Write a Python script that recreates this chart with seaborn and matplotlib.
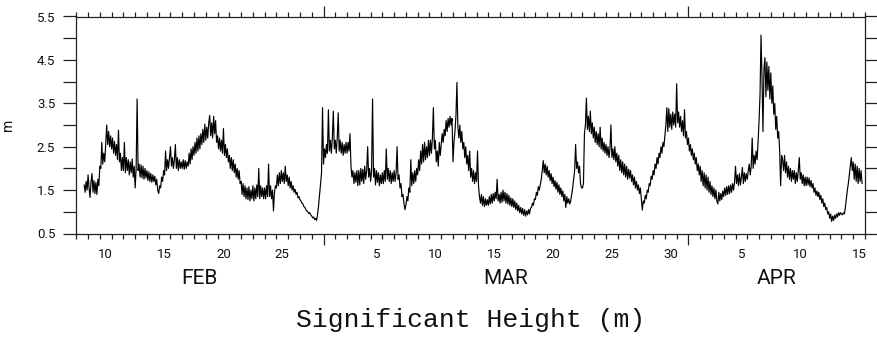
import pandas as pd
import matplotlib
matplotlib.use("Agg")
import matplotlib.pyplot as plt
import matplotlib.dates as mdates
import matplotlib.transforms as mtransforms
import seaborn as sns

# Significant wave height (m), 2-hourly samples, first sample 8 Feb 16:00
series_start = "2023-02-08 16:00"
step = "2h"

hs_feb = [
    1.62, 1.45, 1.70, 1.50,                                                  # 8
    1.85, 1.55, 1.33, 1.70, 1.88, 1.45, 1.72, 1.42, 1.68, 1.40, 1.75, 1.60,  # 9
    2.05, 2.00, 2.60, 2.10, 2.35, 2.15, 2.60, 3.00, 2.55, 2.85, 2.50, 2.75,  # 10
    2.45, 2.70, 2.35, 2.62, 2.30, 2.55, 2.20, 2.88, 2.15, 2.35, 1.95, 2.25,  # 11
    1.95, 2.60, 1.90, 2.25, 1.95, 2.20, 1.85, 2.15, 1.90, 2.22, 1.80, 2.05,  # 12
    1.55, 2.00, 3.60, 1.95, 2.10, 1.80, 2.08, 1.78, 2.05, 1.75, 2.00, 1.78,  # 13
    1.95, 1.72, 1.92, 1.70, 1.88, 1.68, 1.85, 1.70, 1.82, 1.62, 1.75, 1.50,  # 14
    1.42, 1.60, 1.55, 1.80, 1.70, 1.95, 1.85, 2.40, 1.95, 2.20, 2.00, 2.25,  # 15
    2.50, 2.05, 2.25, 2.00, 2.20, 2.55, 2.00, 2.25, 1.95, 2.20, 2.00, 2.15,  # 16
    2.00, 2.20, 1.98, 2.18, 2.00, 2.15, 2.05, 2.35, 2.10, 2.45, 2.20, 2.50,  # 17
    2.30, 2.60, 2.35, 2.70, 2.40, 2.75, 2.45, 2.80, 2.55, 2.90, 2.60, 3.02,  # 18
    2.65, 2.95, 2.70, 3.05, 3.22, 2.75, 3.05, 2.70, 3.20, 2.80, 3.10, 2.60,  # 19
    2.75, 2.45, 2.70, 2.40, 2.65, 2.35, 2.92, 2.30, 2.55, 2.25, 2.45, 2.15,  # 20
    2.30, 2.00, 2.25, 1.95, 2.20, 1.90, 2.10, 1.80, 2.00, 1.75, 1.95, 1.65,  # 21
    1.70, 1.40, 1.65, 1.35, 1.60, 1.30, 1.55, 1.28, 1.58, 1.25, 1.50, 1.30,  # 22
    1.60, 1.25, 1.55, 1.30, 1.62, 1.35, 2.00, 1.30, 1.60, 1.35, 1.55, 1.30,  # 23
    1.55, 1.30, 1.60, 1.35, 2.10, 1.35, 1.60, 1.30, 1.50, 1.02, 1.45, 1.60,  # 24
    1.55, 1.85, 1.60, 1.90, 1.65, 1.95, 1.70, 1.90, 1.65, 2.05, 1.70, 1.85,  # 25
    1.60, 1.80, 1.55, 1.70, 1.50, 1.60, 1.45, 1.52, 1.40, 1.45, 1.32, 1.35,  # 26
    1.28, 1.25, 1.20, 1.18, 1.12, 1.10, 1.05, 1.02, 1.00, 0.96, 0.98, 0.93,  # 27
    0.90, 0.86, 0.88, 0.82, 0.85, 0.80, 0.95, 1.15, 1.40, 1.65, 1.90, 3.40,  # 28
]

hs_mar = [
    2.10, 2.45, 2.25, 2.55, 2.35, 3.35, 2.40, 2.65, 2.35, 2.70, 3.32, 2.45,  # 1
    2.65, 2.35, 2.70, 3.28, 2.40, 2.65, 2.35, 2.60, 2.30, 2.55, 2.35, 2.60,  # 2
    2.35, 2.60, 2.40, 2.80, 2.05, 1.80, 1.95, 1.65, 1.90, 1.68, 1.95, 1.60,  # 3
    1.95, 1.62, 2.00, 1.70, 1.98, 1.65, 2.05, 1.75, 1.95, 2.50, 1.80, 2.00,  # 4
    1.70, 1.95, 3.60, 1.80, 2.00, 1.62, 1.95, 1.68, 1.90, 1.60, 1.85, 1.65,  # 5
    1.90, 1.65, 1.95, 1.70, 2.45, 1.75, 2.00, 1.70, 1.95, 1.65, 1.90, 1.70,  # 6
    1.95, 1.70, 1.90, 2.50, 1.75, 1.85, 1.55, 1.65, 1.35, 1.40, 1.20, 1.05,  # 7
    1.15, 1.35, 1.25, 1.55, 1.45, 2.20, 1.60, 1.90, 1.65, 1.95, 1.70, 2.00,  # 8
    1.85, 2.20, 1.95, 2.40, 2.10, 2.55, 2.15, 2.60, 2.20, 2.50, 2.25, 2.65,  # 9
    2.30, 2.65, 2.35, 2.70, 3.40, 2.45, 2.65, 2.15, 2.40, 2.05, 2.60, 2.30,  # 10
    2.55, 2.80, 2.60, 2.90, 2.75, 3.10, 2.85, 3.15, 2.95, 3.20, 3.00, 3.15,  # 11
    2.15, 2.60, 2.85, 3.20, 3.98, 2.95, 2.70, 3.00, 2.60, 2.85, 2.45, 2.60,  # 12
    2.25, 2.50, 2.10, 2.30, 1.95, 2.40, 1.80, 2.00, 1.70, 1.95, 1.65, 1.90,  # 13
    1.70, 2.40, 1.60, 1.35, 1.20, 1.40, 1.15, 1.35, 1.12, 1.30, 1.15, 1.28,  # 14
    1.15, 1.35, 1.18, 1.40, 1.20, 1.42, 1.25, 1.45, 1.30, 1.75, 1.25, 1.40,  # 15
    1.20, 1.45, 1.22, 1.50, 1.25, 1.45, 1.20, 1.42, 1.18, 1.38, 1.15, 1.32,  # 16
    1.12, 1.30, 1.10, 1.25, 1.05, 1.20, 1.02, 1.15, 0.98, 1.10, 0.95, 1.08,  # 17
    0.92, 1.05, 0.90, 1.02, 0.93, 1.05, 0.95, 1.08, 1.10, 1.20, 1.15, 1.30,  # 18
    1.28, 1.45, 1.38, 1.58, 1.50, 1.62, 1.75, 1.95, 2.18, 1.90, 2.10, 1.85,  # 19
    2.05, 1.80, 1.95, 1.72, 1.88, 1.65, 1.80, 1.58, 1.72, 1.52, 1.68, 1.45,  # 20
    1.62, 1.40, 1.55, 1.35, 1.48, 1.25, 1.40, 1.10, 1.35, 1.20, 1.30, 1.18,  # 21
    1.25, 1.40, 1.55, 1.75, 1.95, 2.55, 2.00, 2.15, 1.90, 2.05, 1.65, 1.55,  # 22
    1.55, 1.65, 2.80, 3.00, 3.62, 2.90, 3.20, 2.85, 3.32, 2.80, 3.05, 2.70,  # 23
    2.95, 2.60, 2.85, 2.55, 2.80, 2.50, 2.95, 2.45, 2.70, 2.40, 2.60, 2.35,  # 24
    2.55, 2.30, 2.50, 2.25, 2.45, 3.00, 2.25, 2.45, 2.20, 2.50, 2.15, 2.35,  # 25
    2.05, 2.30, 1.95, 2.20, 1.90, 2.15, 1.85, 2.10, 1.80, 2.05, 1.75, 1.98,  # 26
    1.78, 1.95, 1.70, 1.85, 1.62, 1.80, 1.55, 1.70, 1.50, 1.62, 1.42, 1.55,  # 27
    1.30, 1.04, 1.25, 1.20, 1.38, 1.30, 1.50, 1.45, 1.65, 1.60, 1.82, 1.75,  # 28
    1.95, 1.85, 2.10, 2.00, 2.25, 2.10, 2.35, 2.25, 2.50, 2.35, 2.60, 2.50,  # 29
    2.75, 3.00, 3.40, 2.85, 3.38, 2.95, 3.25, 2.90, 3.30, 3.00, 3.25, 2.95,  # 30
    3.95, 3.05, 3.30, 2.95, 3.20, 2.85, 3.10, 2.75, 3.35, 2.70, 2.85, 2.55,  # 31
]

hs_apr = [
    2.70, 2.40, 2.55, 2.30, 2.45, 2.20, 2.35, 2.10, 2.25, 1.95, 2.10, 1.85,  # 1
    2.05, 1.70, 1.95, 1.60, 1.90, 1.55, 1.85, 1.50, 1.80, 1.45, 1.70, 1.40,  # 2
    1.60, 1.35, 1.55, 1.30, 1.50, 1.25, 1.18, 1.45, 1.25, 1.42, 1.28, 1.48,  # 3
    1.35, 1.55, 1.38, 1.58, 1.40, 1.60, 1.42, 1.62, 1.45, 1.65, 1.50, 1.68,  # 4
    2.05, 1.65, 1.85, 1.60, 1.88, 1.62, 1.80, 2.02, 1.65, 1.90, 1.70, 1.88,  # 5
    1.75, 1.95, 2.10, 1.85, 2.05, 2.70, 2.00, 2.30, 2.10, 2.40, 2.20, 2.60,  # 6
    3.10, 3.70, 5.07, 4.10, 2.85, 4.30, 4.55, 3.65, 4.45, 3.80, 4.35, 3.60,  # 7
    4.20, 3.50, 3.90, 3.25, 3.50, 2.90, 3.20, 2.70, 2.85, 2.40, 1.60, 2.30,  # 8
    2.20, 1.95, 2.30, 1.90, 2.15, 1.80, 2.05, 1.75, 2.00, 1.70, 1.95, 1.75,  # 9
    1.95, 1.65, 1.90, 1.70, 1.95, 2.25, 1.75, 1.90, 1.65, 1.85, 1.60, 1.80,  # 10
    1.60, 1.80, 1.62, 1.78, 1.58, 1.72, 1.55, 1.65, 1.45, 1.55, 1.38, 1.48,  # 11
    1.35, 1.45, 1.28, 1.38, 1.20, 1.30, 1.12, 1.20, 1.05, 1.10, 0.95, 1.00,  # 12
    0.85, 0.95, 0.78, 0.90, 0.80, 0.92, 0.85, 0.95, 0.88, 0.98, 0.92, 0.98,  # 13
    0.95, 0.93, 0.98, 0.95, 1.10, 1.30, 1.50, 1.65, 1.85, 2.05, 2.25, 1.95,  # 14
    2.15, 1.75, 2.10, 1.70, 2.05, 1.65, 2.00, 1.70, 1.95, 1.65,              # 15
]

# Time axis extent and labelling
x_start = "2023-02-08"
x_end = "2023-04-16"
month_starts = ["2023-02-01", "2023-03-01", "2023-04-01", "2023-05-01"]
month_names = ["FEB", "MAR", "APR"]
day_labels = {
    "2023-02": [10, 15, 20, 25],
    "2023-03": [5, 10, 15, 20, 25, 30],
    "2023-04": [5, 10, 15],
}

y_ticks = [0.5, 1.0, 1.5, 2.0, 2.5, 3.0, 3.5, 4.0, 4.5, 5.0, 5.5]
y_tick_labels = ["0.5", "", "1.5", "", "2.5", "", "3.5", "", "4.5", "", "5.5"]

hs = hs_feb + hs_mar + hs_apr
df = pd.DataFrame({
    "time": pd.date_range(series_start, periods=len(hs), freq=step),
    "hs": hs,
})

sns.set_theme(style="white")
plt.rcParams["font.family"] = ["Roboto", "DejaVu Sans"]

W, H = 878, 348
fig = plt.figure(figsize=(W / 100, H / 100), dpi=100)
left, right, top, bottom = 76.3, 865.0, 16.5, 233.5
ax = fig.add_axes([left / W, 1 - bottom / H, (right - left) / W, (bottom - top) / H])

sns.lineplot(data=df, x="time", y="hs", color="black", lw=0.85, ax=ax)

axis_color = "#222222"
text_color = "#111111"
px = 0.72  # points per pixel at 100 dpi

x0 = mdates.date2num(pd.Timestamp(x_start))
x1 = mdates.date2num(pd.Timestamp(x_end))
ax.set_xlim(x0, x1)
ax.set_ylim(y_ticks[0], y_ticks[-1])

for s in ax.spines.values():
    s.set_visible(True)
    s.set_color(axis_color)
    s.set_linewidth(0.9)

# x: long ticks at month boundaries, short daily ticks, top and bottom
month_nums = [mdates.date2num(pd.Timestamp(m)) for m in month_starts]
ax.set_xticks([m for m in month_nums if x0 < m < x1])
ax.xaxis.set_minor_locator(mdates.DayLocator())
ax.tick_params(axis="x", which="major", direction="out", length=11 * px, width=0.9,
               color=axis_color, bottom=True, top=True, labelbottom=False)
ax.tick_params(axis="x", which="minor", direction="out", length=5 * px, width=0.9,
               color=axis_color, bottom=True, top=True)

# y: ticks on both sides, labels only at the half metres
ax.set_yticks(y_ticks, labels=y_tick_labels)
ax.tick_params(axis="y", which="major", direction="out", length=13 * px, width=0.9,
               color=axis_color, left=True, right=True, labelleft=True,
               pad=8 * px, labelsize=9.5, labelcolor=text_color)
ax.set_xlabel("")
ax.set_ylabel("m", fontsize=10, color=text_color)
ax.yaxis.set_label_coords((15 - left) / (right - left), (bottom - 125) / (bottom - top))

# day numbers (centred on each day) and month names (centred on the visible month)
tr = mtransforms.blended_transform_factory(ax.transData, ax.transAxes)
for month, days in day_labels.items():
    for d in days:
        xd = mdates.date2num(pd.Timestamp(f"{month}-{d:02d} 12:00"))
        ax.text(xd, -21.5 / (bottom - top), str(d), transform=tr, ha="center",
                va="center", fontsize=9.5, color=text_color)
for i, name in enumerate(month_names):
    a = max(month_nums[i], x0)
    b = min(month_nums[i + 1], x1)
    ax.text((a + b) / 2, -44.5 / (bottom - top), name, transform=tr, ha="center",
            va="center", fontsize=15, color=text_color)

fig.text((left + right) / 2 / W, 1 - 320 / H, "Significant Height (m)",
         ha="center", va="center", fontsize=19, family="Liberation Mono",
         color=text_color)

fig.savefig("out.png", dpi=100, facecolor="white")
